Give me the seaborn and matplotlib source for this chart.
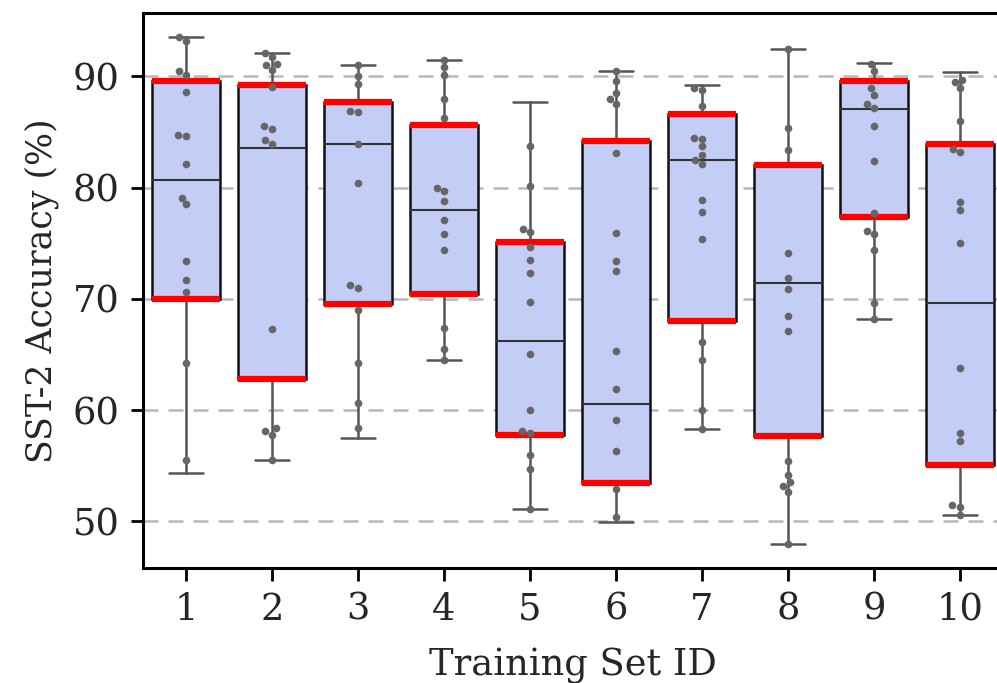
import pandas as pd
import seaborn as sns
import matplotlib
matplotlib.use("Agg")
import matplotlib.pyplot as plt

# Accuracy points read per training set
set_ids = ["1", "2", "3", "4", "5", "6", "7", "8", "9", "10"]
acc_1 = [93.5, 93.2, 90.5, 90.15, 88.6, 84.7, 84.6, 82.1, 79.1, 78.5, 73.4, 71.7, 70.6, 64.2, 55.5]
acc_2 = [92.1, 91.7, 91.1, 91.05, 90.6, 89.0, 85.5, 85.3, 84.3, 83.9, 67.3, 58.4, 58.1, 57.8, 55.5]
acc_3 = [91.0, 90.0, 89.3, 86.9, 86.8, 83.9, 80.4, 71.2, 71.0, 69.0, 64.2, 60.6, 58.4]
acc_4 = [91.5, 90.8, 90.1, 88.0, 86.3, 80.0, 79.7, 78.8, 77.1, 75.8, 74.4, 67.4, 65.5, 64.5]
acc_5 = [83.7, 80.1, 76.3, 76.0, 74.7, 73.5, 72.3, 69.7, 65.0, 60.0, 58.1, 57.9, 56.0, 54.7, 51.1]
acc_6 = [90.5, 89.6, 88.5, 88.0, 87.5, 83.1, 75.9, 73.4, 72.5, 65.3, 61.9, 59.1, 56.3, 52.9, 50.4]
acc_7 = [88.95, 88.8, 87.3, 84.5, 84.4, 83.7, 82.9, 82.5, 82.1, 78.9, 77.8, 75.4, 66.1, 64.5, 60.0, 58.3]
acc_8 = [92.5, 85.4, 83.4, 74.1, 71.9, 70.9, 68.5, 67.1, 55.4, 54.2, 53.5, 53.2, 52.65, 48.0]
acc_9 = [91.1, 90.45, 88.95, 88.3, 87.5, 87.2, 85.5, 82.4, 77.7, 76.1, 75.8, 74.4, 69.6, 68.2]
acc_10 = [89.7, 89.5, 88.98, 86.0, 83.5, 83.2, 78.7, 78.0, 75.0, 63.8, 57.9, 57.2, 51.5, 51.3, 50.6]
all_acc = [acc_1, acc_2, acc_3, acc_4, acc_5, acc_6, acc_7, acc_8, acc_9, acc_10]

# Box statistics as drawn in the figure
whis_hi = [93.5, 92.1, 91.0, 91.5, 87.7, 90.5, 89.25, 92.5, 91.2, 90.36]
q3 = [89.6, 89.25, 87.7, 85.6, 75.1, 84.2, 86.65, 82.0, 89.6, 83.9]
med = [80.66, 83.6, 83.9, 78.0, 66.2, 60.5, 82.5, 71.4, 87.1, 69.6]
q1 = [70.0, 62.8, 69.5, 70.4, 57.8, 53.4, 68.0, 57.7, 77.4, 55.1]
whis_lo = [54.3, 55.5, 57.5, 64.5, 51.1, 49.9, 58.3, 48.0, 68.2, 50.6]

rows = []
for sid, vals in zip(set_ids, all_acc):
    for v in vals:
        rows.append({"set": sid, "acc": v})
df = pd.DataFrame(rows)

sns.set_style("ticks")
plt.rcParams["font.family"] = ["DejaVu Serif"]

fig = plt.figure(figsize=(9.97, 6.83), dpi=100)
ax = fig.add_axes([0.1434, 0.1684, 0.8626, 0.8126])

# grid
for y in [50, 60, 70, 80, 90]:
    ax.axhline(y, color="#b8b8b8", lw=1.8, ls=(0, (6, 4)), zorder=0)

stats = []
for i in range(len(set_ids)):
    stats.append({"med": med[i], "q1": q1[i], "q3": q3[i],
                  "whislo": whis_lo[i], "whishi": whis_hi[i], "fliers": []})

ax.bxp(stats, positions=range(len(set_ids)), widths=0.8, patch_artist=True,
       showfliers=False,
       boxprops=dict(facecolor="#c4cdf6", edgecolor="#111111", linewidth=1.8),
       whiskerprops=dict(color="#555555", linewidth=1.8),
       capprops=dict(color="#555555", linewidth=1.8),
       medianprops=dict(color="#333333", linewidth=1.5),
       capwidths=0.4, zorder=2)

# red quartile bars
for i in range(len(set_ids)):
    ax.hlines([q1[i], q3[i]], i - 0.4, i + 0.4, color="#ff0000", lw=4.5, zorder=3)

sns.swarmplot(data=df, x="set", y="acc", order=set_ids, color="#666666",
              size=5.5, ax=ax, zorder=4)

ax.set_xlim(-0.5, 9.5)
ax.set_ylim(45.8, 95.7)
ax.set_yticks([50, 60, 70, 80, 90])
ax.set_xticks(range(len(set_ids)))
ax.set_xticklabels(set_ids)
ax.set_xlabel("Training Set ID", fontsize=26.5, labelpad=15)
ax.set_ylabel("SST-2 Accuracy (%)", fontsize=25, labelpad=10)
ax.tick_params(labelsize=26.5, length=9, width=2, color="black", pad=8)
for sp in ax.spines.values():
    sp.set_linewidth(2.2)
    sp.set_color("black")

plt.savefig("out.png", dpi=100)
